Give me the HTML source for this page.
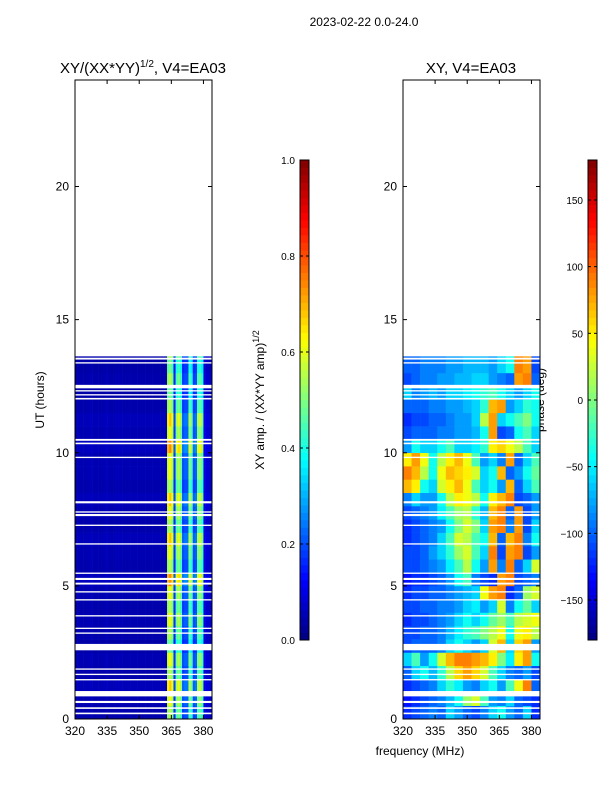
<!DOCTYPE html>
<html><head><meta charset="utf-8"><style>
body{margin:0;background:#fff;}
svg{display:block;font-family:"Liberation Sans",sans-serif;}
</style></head><body>
<svg id="fig" width="600" height="800" xmlns="http://www.w3.org/2000/svg">
<text x="364" y="26" font-size="12" text-anchor="middle">2023-02-22 0.0-24.0</text>
<text x="143" y="73" font-size="15" text-anchor="middle">XY/(XX*YY)<tspan font-size="10" dy="-6">1/2</tspan><tspan dy="6">, V4=EA03</tspan></text>
<text x="471" y="73" font-size="15" text-anchor="middle">XY, V4=EA03</text>
<text x="44" y="400" font-size="12" text-anchor="middle" transform="rotate(-90 44 400)">UT (hours)</text>
<text x="420" y="755" font-size="12" text-anchor="middle">frequency (MHz)</text>
<text x="264" y="400" font-size="12" text-anchor="middle" transform="rotate(-90 264 400)">XY amp. / (XX*YY amp)<tspan font-size="9" dy="-5">1/2</tspan></text>
<text x="544" y="400" font-size="12" text-anchor="middle" transform="rotate(-90 544 400)">phase (deg)</text>
<g id="left"></g>
<g id="right"></g>
<g id="axes"></g>
</svg>
<script>
const freqBins = [320,384];
const ampColumns = [0.05,0.05,0.05,0.05,0.05,0.05,0.05,0.06,0.05,0.05,0.05,0.05,0.05,0.05,0.06,0.05,0.05,0.05,0.05,0.05,0.06,0.05,0.05,0.05,0.05,0.05,0.05,0.05,0.05,0.05,0.05,0.05,0.05,0.05,0.05,0.05,0.05,0.05,0.05,0.05,0.05,0.05,0.05,0.58,0.62,0.55,0.18,0.5,0.55,0.48,0.2,0.22,0.22,0.5,0.45,0.2,0.22,0.5,0.52,0.45,0.1,0.08,0.08,0.08];
const ampRowGain = [0.9,1.0,1.1,0.9,1.0,0.8,0.9,1.0,0.9,1.0,1.2,0.9,1.0,1.1,0.9,1.0,1.1,0.9,1.0,1.0,1.2,1.0,1.1,0.9,0.8,0.9,0.8,0.9];
const phaseRows = [
[-120,-110,-100,-90,-100,-60,-80,-100,-110,-90,-60,-40,-80,-100,-60,-120],
[-130,-120,-110,-100,-90,-70,-40,10,30,-20,-80,-90,-60,-100,-110,-120],
[-120,-110,-100,-90,-60,-30,-50,-80,-90,-60,-40,-80,-20,40,90,-100],
[-100,-60,-40,-70,-30,20,60,80,60,30,-20,-60,-90,-100,-80,-110],
[-60,-20,-80,-40,30,70,90,90,80,70,50,0,-50,50,80,-40],
[-110,-100,-100,-100,-90,-60,-40,-60,-80,-60,30,70,-60,60,80,-80],
[-110,-110,-100,-100,-90,-70,-50,-30,-20,0,20,40,-40,40,50,20],
[-120,-110,-110,-100,-90,-80,-60,-40,-60,-40,-10,10,-20,20,30,40],
[-110,-110,-100,-100,-90,-90,-80,-60,-50,-80,-60,30,-90,-40,-10,-60],
[-120,-110,-110,-100,-100,-90,-80,-70,-60,40,80,90,-120,-100,10,30],
[-130,-120,-120,-110,-100,-80,-40,-20,-90,-110,-120,80,90,-110,-100,-90],
[-110,-110,-100,-90,-80,-50,-20,20,-40,-80,80,-90,90,-100,-60,30],
[-110,-110,-100,-80,-60,-30,10,30,-20,-60,90,-110,80,90,-110,-80],
[-120,-110,-100,-90,-60,-20,30,20,-20,-40,70,-100,70,90,-90,-40],
[-120,-110,-100,-90,-80,-40,0,30,0,-60,80,90,-90,80,-110,-60],
[-110,-100,-90,-80,-50,-20,10,20,-30,-70,70,90,-100,80,-110,-80],
[-90,-60,-80,-80,-40,20,50,40,20,-40,50,70,90,-110,-100,-80],
[70,50,-40,-60,30,50,70,40,-20,-60,-40,-80,70,-100,-60,-20],
[90,70,20,-40,40,70,60,50,30,-60,-40,70,-100,-80,-40,-10],
[50,80,40,-40,20,50,70,40,-20,-80,-60,-90,80,-100,-60,-20],
[-80,-40,-60,-60,-40,-20,-60,-60,-50,-30,50,60,40,20,-20,-60],
[-110,-100,-100,-100,-90,-90,-80,-80,-70,-40,80,-110,-100,-40,-20,-60],
[-120,-110,-110,-100,-100,-90,-80,-80,-60,20,80,-60,-40,-20,0,-40],
[-100,-100,-100,-90,-90,-80,-80,-70,-60,-30,70,80,-80,-60,-30,-40],
[-60,-90,-80,-70,-80,-60,-60,-50,-40,-30,-20,-40,-60,-80,-60,-40],
[-110,-100,-90,-90,-80,-80,-70,-70,-60,-60,-80,-90,-100,80,90,-100],
[-100,-100,-90,-90,-90,-80,-80,-70,-70,-70,-80,-60,-40,90,80,-110],
[-100,-100,-90,-90,-90,-80,-80,-70,-70,-70,-80,-60,-40,90,80,-110]];
const rowHours = 0.5;
const dataEnd = 13.62;
const gaps = [[0.18,0.24],[0.38,0.44],[0.6,0.68],[0.85,1.05],[1.45,1.5],[1.65,1.7],[1.85,1.9],[2.58,2.82],[3.2,3.25],[3.38,3.43],[3.85,3.9],[4.45,4.5],[4.75,4.8],[5.05,5.12],[5.22,5.3],[5.45,5.5],[6.55,6.6],[7.25,7.3],[7.62,7.7],[7.75,7.8],[8.1,8.18],[9.8,9.85],[10.32,10.38],[10.45,10.52],[12.0,12.06],[12.15,12.2],[12.3,12.35],[12.42,12.55],[13.35,13.4],[13.5,13.57]];
const xTicks = [320,335,350,365,380];
const yTicks = [0,5,10,15,20];
const ampTicks = [0.0,0.2,0.4,0.6,0.8,1.0];
const phaseTicks = [-150,-100,-50,0,50,100,150];

const NS="http://www.w3.org/2000/svg";
const PT=80,PB=719;
const panels=[{x0:75,x1:212,g:'left'},{x0:403,x1:540,g:'right'}];
function yS(h){return PB-(h/24)*(PB-PT);}
function xS(p,f){return p.x0+(f-freqBins[0])/(freqBins[1]-freqBins[0])*(p.x1-p.x0);}
function jet(t){t=Math.max(0,Math.min(1,t));
 const r=Math.max(0,Math.min(1,1.5-Math.abs(4*t-3)));
 const g=Math.max(0,Math.min(1,1.5-Math.abs(4*t-2)));
 const b=Math.max(0,Math.min(1,1.5-Math.abs(4*t-1)));
 return `rgb(${Math.round(r*255)},${Math.round(g*255)},${Math.round(b*255)})`;}
function el(tag,attrs,parent){const e=document.createElementNS(NS,tag);for(const k in attrs)e.setAttribute(k,attrs[k]);parent.appendChild(e);return e;}
const gl=document.getElementById('left');
const nC=ampColumns.length, fw=(freqBins[1]-freqBins[0])/nC;
ampRowGain.forEach((gn,ri)=>{
 const h0=ri*rowHours,h1=Math.min(dataEnd,(ri+1)*rowHours);
 if(h0>=dataEnd)return;
 ampColumns.forEach((a,ci)=>{
  const f0=freqBins[0]+ci*fw;
  const r=el('rect',{x:xS(panels[0],f0),y:yS(h1),width:xS(panels[0],f0+fw)-xS(panels[0],f0)+0.3,height:yS(h0)-yS(h1)+0.3,fill:jet(a*gn)},gl);
  
  
 });
});
const gr=document.getElementById('right');
phaseRows.forEach((row,ri)=>{
 const h0=ri*rowHours,h1=Math.min(dataEnd,(ri+1)*rowHours);
 if(h0>=dataEnd)return;
 const w=(freqBins[1]-freqBins[0])/row.length;
 row.forEach((v,ci)=>{
  const f0=freqBins[0]+ci*w;
  const r=el('rect',{x:xS(panels[1],f0),y:yS(h1),width:xS(panels[1],f0+w)-xS(panels[1],f0)+0.3,height:yS(h0)-yS(h1)+0.3,fill:jet((v+180)/360)},gr);
  
  
 });
});
const ax=document.getElementById('axes');
panels.forEach(p=>{
 gaps.forEach(gp=>{
  const r=el('rect',{x:p.x0,y:yS(gp[1]),width:p.x1-p.x0,height:Math.max(1.2,yS(gp[0])-yS(gp[1])),fill:'#fff'},ax);
  
  
 });
 const fr=el('rect',{x:p.x0,y:PT,width:p.x1-p.x0,height:PB-PT,fill:'none',stroke:'#000','stroke-width':1},ax);
 
 
 xTicks.forEach(t=>{const x=xS(p,t);
  el('line',{x1:x,x2:x,y1:PB,y2:PB-4,stroke:'#000'},ax);
  el('line',{x1:x,x2:x,y1:PT,y2:PT+4,stroke:'#000'},ax);
  const tx=el('text',{x:x,y:PB+16,'font-size':12,'text-anchor':'middle'},ax);tx.textContent=t;
  
  
 });
 yTicks.forEach(t=>{const y=yS(t);
  el('line',{x1:p.x0,x2:p.x0+4,y1:y,y2:y,stroke:'#000'},ax);
  el('line',{x1:p.x1,x2:p.x1-4,y1:y,y2:y,stroke:'#000'},ax);
  const tx=el('text',{x:p.x0-6,y:y+4,'font-size':12,'text-anchor':'end'},ax);tx.textContent=t;
  
  
 });
});
function cbar(x,lo,hi,ticks,fmt,name){
 const y0=160,y1=640,n=64;
 for(let i=0;i<n;i++){
  const r=el('rect',{x:x,y:y1-(i+1)*(y1-y0)/n,width:9,height:(y1-y0)/n+0.4,fill:jet((i+0.5)/n)},ax);
  
  
 }
 el('rect',{x:x,y:y0,width:9,height:y1-y0,fill:'none',stroke:'#000'},ax);
 ticks.forEach(t=>{const y=y1-(t-lo)/(hi-lo)*(y1-y0);
  el('line',{x1:x,x2:x+3,y1:y,y2:y,stroke:'#000'},ax);
  el('line',{x1:x+9,x2:x+6,y1:y,y2:y,stroke:'#000'},ax);
  const tx=el('text',{x:x-5,y:y+4,'font-size':10,'text-anchor':'end'},ax);tx.textContent=fmt(t);
  
  
 });
}
cbar(300,0,1,ampTicks,t=>t.toFixed(1),'amp-colorbar');
cbar(588,-180,180,phaseTicks,t=>t<0?'\u2212'+(-t):String(t),'phase-colorbar');
</script>
</body></html>
